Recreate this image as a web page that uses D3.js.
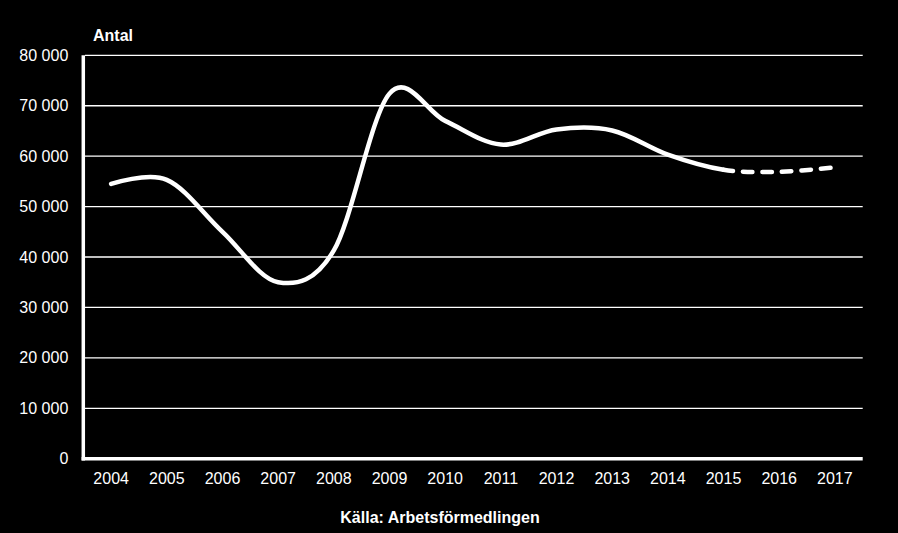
<!DOCTYPE html>
<html>
<head>
<meta charset="utf-8">
<script src="https://cdn.jsdelivr.net/npm/d3@7"></script>
<style>
  html, body { margin: 0; padding: 0; background: #000; }
  svg { display: block; }
  text { font-family: "Liberation Sans", Arial, sans-serif; fill: #fff; }
</style>
</head>
<body>
<svg id="chart" width="898" height="533"></svg>
<script>
const years = ["2004","2005","2006","2007","2008","2009","2010","2011","2012","2013","2014","2015","2016","2017"];
const values = [54500, 55300, 45000, 35000, 41300, 72400, 67000, 62300, 65300, 65100, 60300, 57300, 56900, 57800];
const forecastStartYear = "2015";
const yTicks = [0, 10000, 20000, 30000, 40000, 50000, 60000, 70000, 80000];
const yAxisTitle = "Antal";
const sourceText = "Källa: Arbetsförmedlingen";

const W = 898, H = 533;
const margin = { top: 55.3, right: 35.3, bottom: 74.3, left: 83.3 };
const svg = d3.select("#chart");

const x = d3.scaleBand().domain(years).range([margin.left, W - margin.right]);
const y = d3.scaleLinear().domain([0, 80000]).range([H - margin.bottom, margin.top]);

const locale = d3.formatLocale({ decimal: ",", thousands: " ", grouping: [3], currency: ["", ""] });
const fmt = locale.format(",");

// gridlines
svg.append("g").selectAll("line").data(yTicks.filter(d => d > 0)).join("line")
  .attr("x1", margin.left + 1.7).attr("x2", W - margin.right)
  .attr("y1", d => y(d)).attr("y2", d => y(d))
  .attr("stroke", "#fff").attr("stroke-width", 1.3);

// y axis labels
const yAxis = svg.append("g").attr("transform", `translate(${margin.left},0)`)
  .call(d3.axisLeft(y).tickValues(yTicks).tickFormat(fmt).tickSize(0).tickPadding(15));
yAxis.select(".domain").remove();
yAxis.selectAll("text").style("font-size", "16px").attr("fill", "#fff");

// x axis labels
const xAxis = svg.append("g").attr("transform", `translate(0,${y(0)})`)
  .call(d3.axisBottom(x).tickSize(0).tickPadding(14));
xAxis.select(".domain").remove();
xAxis.selectAll("text").style("font-size", "16px").attr("fill", "#fff");

// axis lines
svg.append("line").attr("x1", margin.left).attr("x2", margin.left)
  .attr("y1", margin.top).attr("y2", y(0) + 1.8)
  .attr("stroke", "#fff").attr("stroke-width", 3.5);
svg.append("line").attr("x1", margin.left - 1.7).attr("x2", W - margin.right)
  .attr("y1", y(0)).attr("y2", y(0))
  .attr("stroke", "#fff").attr("stroke-width", 3.5);

// line
const pts = years.map((yr, i) => [x(yr) + x.bandwidth() / 2, y(values[i])]);
const lineGen = d3.line().curve(d3.curveCardinal.tension(0));
const full = lineGen(pts);
const parts = full.split("C");
const splitIdx = years.indexOf(forecastStartYear);
const solidD = parts[0] + "C" + parts.slice(1, splitIdx + 1).join("C");
const dashedD = `M${pts[splitIdx][0]},${pts[splitIdx][1]}C` + parts.slice(splitIdx + 1).join("C");

svg.append("path").attr("d", solidD).attr("fill", "none")
  .attr("stroke", "#fff").attr("stroke-width", 4.5).attr("stroke-linecap", "round").attr("stroke-linejoin", "round");
svg.append("path").attr("d", dashedD).attr("fill", "none")
  .attr("stroke", "#fff").attr("stroke-width", 4.5).attr("stroke-linecap", "round")
  .attr("stroke-dasharray", "9.5,10");

// titles
svg.append("text").attr("x", 93).attr("y", 40.7).text(yAxisTitle)
  .style("font-size", "16px").style("font-weight", "bold");
svg.append("text").attr("x", 440).attr("y", 523).attr("text-anchor", "middle").text(sourceText)
  .style("font-size", "16px").style("font-weight", "bold");
</script>
</body>
</html>
